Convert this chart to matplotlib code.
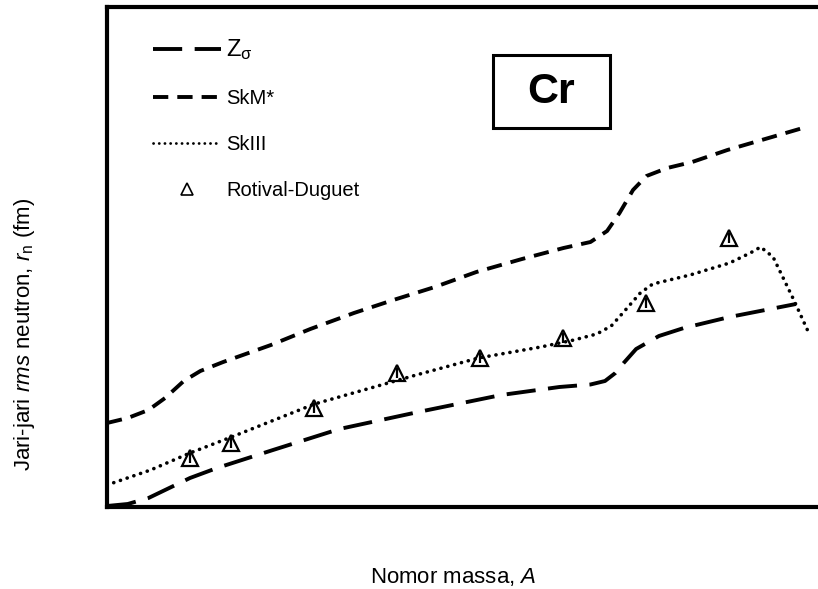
import matplotlib
matplotlib.use("Agg")
import matplotlib.pyplot as plt
from matplotlib.lines import Line2D
from matplotlib.patches import Rectangle

plt.rcParams['font.family'] = ['Liberation Sans', 'DejaVu Sans']
plt.rcParams['mathtext.fontset'] = 'custom'
plt.rcParams['mathtext.rm'] = 'Liberation Sans'
plt.rcParams['mathtext.it'] = 'Liberation Sans:italic'
plt.rcParams['lines.scale_dashes'] = False

# Z_sigma (long dash)
z_A = [42, 43, 44, 45, 46, 47.3, 50, 53.2, 57, 61, 63.8, 65.3, 66, 66.5, 66.9, 67.5,
       68.6, 69.8, 72, 75.2]
z_r = [3.402, 3.406, 3.418, 3.438, 3.458, 3.478, 3.514, 3.556, 3.59, 3.624, 3.64, 3.645,
       3.652, 3.668, 3.688, 3.716, 3.742, 3.758, 3.78, 3.806]

# SkM*
skm_A = [42, 43.0, 44.0, 44.8, 45.7, 46.5, 47.6, 49.9, 51.8, 53.9, 55.8, 57.8, 59.8,
         62.0, 64.0, 65.3, 66.1, 66.7, 67.35, 68.0, 69.0, 70.2, 71.9, 75.7]
skm_r = [3.568, 3.578, 3.594, 3.618, 3.652, 3.672, 3.69, 3.724, 3.756, 3.788, 3.814,
         3.84, 3.87, 3.896, 3.918, 3.93, 3.952, 3.988, 4.034, 4.062, 4.078, 4.09, 4.114,
         4.16]

# SkIII
sk3_A = [42, 44.1, 46, 48, 52, 54.2, 56.9, 59.9, 62.9, 64.5, 65.6, 66.3, 66.9, 67.7,
         68.3, 70.1, 72.0, 73.0, 73.5, 74.1, 75.1, 75.8]
sk3_r = [3.444, 3.474, 3.508, 3.54, 3.606, 3.632, 3.664, 3.698, 3.72, 3.734, 3.746,
         3.762, 3.79, 3.828, 3.846, 3.864, 3.888, 3.908, 3.92, 3.90, 3.814, 3.75]

# Rotival-Duguet
rd_A = [46, 48, 52, 56, 60, 64, 68, 72]
rd_r = [3.498, 3.528, 3.598, 3.668, 3.698, 3.738, 3.808, 3.938]
rd_err = [0.01] * len(rd_A)

fig = plt.figure(figsize=(8.18, 5.89), dpi=100)
ax = fig.add_axes([107 / 818, 82 / 589, 711 / 818, 500 / 589])

lw = 2.8
ax.plot(z_A, z_r, color='black', lw=lw, dashes=(21, 9))
ax.plot(skm_A, skm_r, color='black', lw=lw, dashes=(11, 6.5))
ax.plot(sk3_A, sk3_r, color='black', lw=2.6, dashes=(0.1, 5), dash_capstyle='round')
ax.errorbar(rd_A, rd_r, yerr=rd_err, fmt='^', ms=11.5, mfc='none', mec='black', mew=1.6,
            ecolor='black', elinewidth=1.6, capsize=0)

ax.set_xlim(42, 42 + 711 / 20.75)
ax.set_ylim(3.40, 4.40)
ax.set_xticks([])
ax.set_yticks([])
for s in ['left', 'bottom', 'top']:
    ax.spines[s].set_linewidth(3)
ax.spines['right'].set_visible(False)

handles = [
    Line2D([], [], color='black', lw=lw, dashes=(21, 9)),
    Line2D([], [], color='black', lw=lw, dashes=(11, 6.5)),
    Line2D([], [], color='black', lw=2.0, dashes=(0.1, 4), dash_capstyle='round'),
    Line2D([], [], ls='none', marker='^', ms=8, mfc='none', mec='black', mew=1.2),
]
labels = [r'Z$_{\mathrm{\sigma}}$', 'SkM*', 'SkIII', 'Rotival-Duguet']
leg = ax.legend(handles, labels, loc='upper left', bbox_to_anchor=(0.064, 0.94),
                frameon=False, fontsize=14.5, handlelength=3.4, handletextpad=0.25,
                labelspacing=1.35, borderpad=0, borderaxespad=0)
leg.get_texts()[0].set_fontsize(17)

ax.add_patch(Rectangle((0.543, 0.758), 0.1645, 0.146, transform=ax.transAxes,
                       fill=False, lw=2.2, ec='black'))
ax.text(0.6245, 0.83, 'Cr', transform=ax.transAxes, ha='center', va='center',
        fontsize=31, fontweight='bold')

fig.text(453 / 818, 1 - 577 / 589, r'Nomor massa, $\it{A}$', ha='center', va='center',
         fontsize=16)
fig.text(25 / 818, 1 - 334 / 589, r'Jari-jari $\it{rms}$ neutron, $\it{r}_\mathrm{n}$ (fm)',
         ha='center', va='center', rotation=90, fontsize=16)

fig.savefig('out.png', dpi=100)
